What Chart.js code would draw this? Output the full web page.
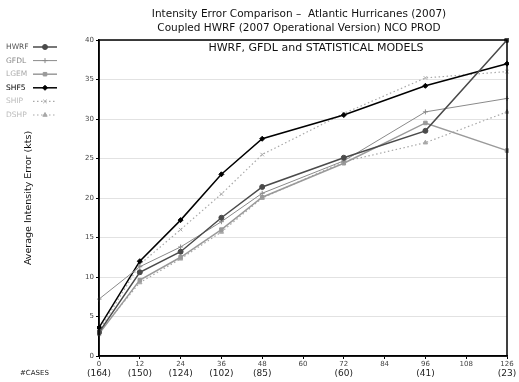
<!DOCTYPE html>
<html>
<head>
<meta charset="utf-8">
<script src="https://cdn.jsdelivr.net/npm/chart.js@4.4.0/dist/chart.umd.min.js"></script>
<style>
  html, body { margin: 0; padding: 0; background: #fff; }
  #wrap { width: 519px; height: 382px; }
</style>
</head>
<body>
<div id="wrap"><canvas id="chart"></canvas></div>
<script>
  // forecast hours and the label printed under each tick
  const hours = [0, 12, 24, 36, 48, 72, 96, 120];
  const tickLabels = ['0', '12', '24', '36', '48', '60', '72', '84', '96', '108', '126'];
  const cases = ['(164)', '(150)', '(124)', '(102)', '(85)', '(60)', '(41)', '(23)'];

  const hwrf = [3.0, 10.6, 13.2, 17.5, 21.4, 25.1, 28.5, 40.0];
  const gfdl = [7.2, 11.3, 13.8, 17.0, 20.6, 24.7, 30.9, 32.6];
  const lgem = [2.8, 9.6, 12.5, 16.0, 20.1, 24.4, 29.5, 26.0];
  const shf5 = [3.6, 12.0, 17.2, 23.0, 27.5, 30.5, 34.2, 37.0];
  const ship = [3.2, 11.6, 16.0, 20.5, 25.5, 30.7, 35.2, 36.0];
  const dshp = [3.0, 9.3, 12.3, 15.7, 20.0, 24.6, 27.0, 30.9];

  const series = [
    { name: 'HWRF', data: hwrf, color: '#4a4a4a', style: 'circle', dash: [], width: 1.5, text: '#555' },
    { name: 'GFDL', data: gfdl, color: '#8a8a8a', style: 'cross', dash: [], width: 1, text: '#888' },
    { name: 'LGEM', data: lgem, color: '#9a9a9a', style: 'rect', dash: [], width: 1.5, text: '#aaa' },
    { name: 'SHF5', data: shf5, color: '#000000', style: 'rectRot', dash: [], width: 1.5, text: '#000' },
    { name: 'SHIP', data: ship, color: '#a8a8a8', style: 'crossRot', dash: [1.5, 2.5], width: 1.2, text: '#bbb' },
    { name: 'DSHP', data: dshp, color: '#a8a8a8', style: 'triangle', dash: [1.5, 2.5], width: 1.2, text: '#bbb' }
  ];

  const FONT = '"DejaVu Sans", sans-serif';

  const decorations = {
    id: 'decorations',
    afterDraw(chart) {
      const ctx = chart.ctx;
      const a = chart.chartArea;
      const x = chart.scales.x;
      ctx.save();

      // frame
      ctx.strokeStyle = '#000';
      ctx.lineWidth = 1.5;
      ctx.strokeRect(a.left, a.top, a.right - a.left, a.bottom - a.top);

      // titles
      ctx.fillStyle = '#111';
      ctx.textAlign = 'center';
      ctx.textBaseline = 'middle';
      ctx.font = '10.5px ' + FONT;
      ctx.fillText('Intensity Error Comparison \u2013  Atlantic Hurricanes (2007)', 299, 14);
      ctx.fillText('Coupled HWRF (2007 Operational Version) NCO PROD', 299, 28);
      ctx.font = '11px ' + FONT;
      ctx.fillText('HWRF, GFDL and STATISTICAL MODELS', 316, 48);

      // y title
      ctx.save();
      ctx.translate(29, 198);
      ctx.rotate(-Math.PI / 2);
      ctx.font = '9.5px ' + FONT;
      ctx.fillText('Average Intensity Error (kts)', 0, 0);
      ctx.restore();

      // cases row
      ctx.font = '9px ' + FONT;
      ctx.fillStyle = '#222';
      hours.forEach((h, i) => ctx.fillText(cases[i], x.getPixelForValue(h), 374));
      ctx.font = '7px ' + FONT;
      ctx.textAlign = 'left';
      ctx.fillText('#CASES', 20, 373);

      // legend
      series.forEach((s, i) => {
        const y = 47 + i * 13.6;
        ctx.font = '7.5px ' + FONT;
        ctx.fillStyle = s.text;
        ctx.textAlign = 'left';
        ctx.fillText(s.name, 6, y);
        ctx.strokeStyle = s.color;
        ctx.lineWidth = s.width;
        ctx.setLineDash(s.dash);
        ctx.beginPath();
        ctx.moveTo(33, y);
        ctx.lineTo(57, y);
        ctx.stroke();
        ctx.setLineDash([]);
        ctx.fillStyle = s.color;
        ctx.lineWidth = 1;
        Chart.helpers.drawPoint(ctx, { pointStyle: s.style, radius: 2.5, borderWidth: 1 }, 45, y);
      });
      ctx.restore();
    }
  };

  new Chart(document.getElementById('chart'), {
    type: 'line',
    data: {
      datasets: series.map(s => ({
        label: s.name,
        data: s.data.map((v, i) => ({ x: hours[i], y: v })),
        borderColor: s.color,
        backgroundColor: s.color,
        borderWidth: s.width,
        borderDash: s.dash,
        pointStyle: s.style,
        pointRadius: 2.5,
        pointBorderWidth: 1,
        tension: 0,
        clip: 2
      }))
    },
    options: {
      responsive: true,
      maintainAspectRatio: false,
      animation: false,
      layout: { padding: { left: 59, top: 40, right: 12, bottom: 0 } },
      plugins: { legend: { display: false }, tooltip: { enabled: false } },
      scales: {
        x: {
          type: 'linear',
          min: 0, max: 120,
          afterFit(s) { s.height = 26; },
          afterBuildTicks(s) { s.ticks = tickLabels.map((t, i) => ({ value: i * 12 })); },
          ticks: {
            font: { size: 7, family: FONT }, color: '#444', padding: 1, maxRotation: 0,
            callback: (v, i) => tickLabels[i]
          },
          grid: { drawOnChartArea: false, tickLength: 3, color: '#000' },
          border: { color: '#000', width: 1.5 }
        },
        y: {
          min: 0, max: 40,
          afterFit(s) { s.width = 40; },
          ticks: { stepSize: 5, font: { size: 7, family: FONT }, color: '#444', padding: 2 },
          grid: { color: '#e2e2e2', tickLength: 3, tickColor: '#000' },
          border: { color: '#000', width: 1.5 }
        }
      }
    },
    plugins: [decorations]
  });
</script>
</body>
</html>
